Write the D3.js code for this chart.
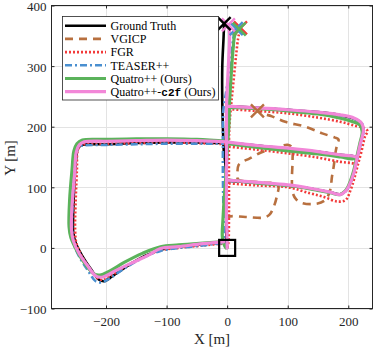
<!DOCTYPE html>
<html>
<head>
<meta charset="utf-8">
<script src="https://cdn.jsdelivr.net/npm/d3@7"></script>
<style>
  body { margin: 0; background: #fff; }
  svg { display: block; }
  .tick text { font-family: "Liberation Serif", serif; font-size: 13px; fill: #262626; }
</style>
</head>
<body>
<svg id="chart" width="374" height="350"></svg>
<script>
// ---- data (metres) ----
const xTicks = [-200, -100, 0, 100, 200];
const yTicks = [-100, 0, 100, 200, 300, 400];
const seriesNames = ['Ground Truth', 'VGICP', 'FGR', 'TEASER++', 'Quatro++ (Ours)', 'Quatro++-c2f (Ours)'];

// null = break between pieces of the same trajectory
const gtPath = [
  [-6, 9], [-30, 7], [-70, 3], [-105, -2], [-135, -13], [-165, -30], [-190, -47], [-203, -55], [-212, -52],
  [-225, -35], [-240, -12], [-250, 8], [-254, 25], [-254, 60], [-252, 110], [-249, 150], [-246, 165],
  [-238, 170], [-200, 171], [-150, 173], [-100, 174], [-50, 174], [-6, 173],
  null,
  [-1, 111], [50, 107], [100, 103], [137, 98], [170, 92], [187, 88.5], [196, 94], [201, 102], [209, 123],
  [215, 150], [220, 172], [224.5, 194], [222, 205], [210, 213], [187, 219], [150, 224], [100, 228], [50, 231], [-1, 234],
  null,
  [-1, 174], [50, 169], [100, 163.5], [150, 158.5], [187, 153.5], [205, 152], [213, 150],
  null,
  [0, 0], [-1, 8], [-1.5, 60], [-1.5, 110], [-3, 140], [-5.5, 160], [-7, 200], [-8, 240], [-8, 300], [-6, 345], [-5, 370]
];

const vgicpPath = [
  [0, 0], [0, 25], [1, 50], [30, 51], [60, 50], [70, 55], [77, 68], [82, 85], [84, 104], [60, 108], [30, 110],
  [18, 113], [17, 125], [19, 137], [27, 143], [36, 147], [55, 157], [80, 165], [100, 170], [107, 166],
  [108, 145], [107, 115], [108, 92], [114, 80], [124, 74], [148, 73], [162, 79], [170, 95], [173, 117],
  [176, 135], [179, 158], [182, 172], [184, 179], [178, 182], [157, 189], [129, 200], [96, 208], [74, 217],
  [58, 222], [50, 226]
];

const fgrPath = [
  [-8, 7], [-40, 4], [-80, 0], [-110, -4], [-140, -16], [-170, -32], [-195, -48], [-206, -53], [-214, -50],
  [-228, -33], [-242, -10], [-249, 8], [-251, 30], [-250, 80], [-248, 130], [-247, 160], [-243, 168],
  [-236, 171], [-200, 172], [-150, 173], [-100, 174], [-50, 173], [3, 171],
  null,
  [3, 106.5], [50, 103], [101, 100], [137, 90], [160, 84], [182, 76.5], [195.5, 79], [204, 96], [210, 115],
  [215, 134], [222, 160], [228, 185], [232, 192], [228, 197], [210, 202], [187, 208], [150, 215], [101, 222],
  [50, 226], [3, 229],
  null,
  [3, 167], [50, 162], [101, 156], [150, 149], [187, 142], [205, 140], [215, 138],
  null,
  [0, 0], [2, 8], [3, 50], [3, 110], [3, 175], [4, 205], [7, 240], [11, 280], [15, 320], [18, 345], [20, 355], [22, 363]
];

const teaserPath = [
  [-8, 8], [-40, 4], [-80, 0], [-110, -5], [-140, -17], [-170, -34], [-195, -51], [-207, -57], [-217, -55],
  [-230, -37], [-245, -13], [-253, 7], [-256, 30], [-255, 80], [-252, 130], [-250, 160], [-246, 167],
  [-238, 169], [-200, 170], [-150, 171], [-100, 172], [-50, 172], [-5, 172],
  null,
  [0, 111], [50, 107], [100, 103], [137, 98], [170, 91.5], [187, 88], [196, 94], [201, 102], [209, 124],
  [215.5, 151], [221, 174], [225.5, 195], [222, 206], [210, 213], [187, 218.5], [150, 223.5], [100, 228], [50, 231], [0, 233],
  null,
  [0, 174], [50, 168], [100, 163], [150, 157.5], [187, 152.5], [205, 151.5], [213, 151],
  null,
  [-3, 0], [-5, 10], [-6, 60], [-7, 120], [-7, 175], [-7, 200], [-6, 230], [-2, 255], [3, 290], [7, 320],
  [10, 345], [12, 355], [15, 362]
];

const quatroPath = [
  [-10, 10], [-40, 8], [-80, 5], [-110, 2], [-140, -9], [-170, -24], [-195, -39], [-210, -45], [-220, -43],
  [-235, -26], [-249, -3], [-258, 17], [-261, 35], [-260, 80], [-256, 130], [-253, 160], [-248, 172],
  [-239, 178], [-200, 179], [-150, 180], [-100, 180], [-50, 179], [1, 176],
  null,
  [2, 112], [50, 107], [100, 103], [137, 97.5], [170, 91], [186, 88], [195, 94], [200, 102], [208, 124],
  [214, 150], [219, 172], [223, 192], [219, 203], [205, 209], [187, 214], [150, 221], [100, 226], [50, 230], [3, 232],
  null,
  [1, 172], [50, 166], [100, 160], [150, 155], [187, 150], [207, 147], [213, 149],
  null,
  [-2, 0], [-6, 8], [-8, 20], [-7, 45], [-5, 80], [-2, 120], [1, 175], [3, 205], [4, 240], [7, 290],
  [10, 330], [13, 352], [20, 361]
];

const c2fPath = [
  [-6, 10], [-40, 7], [-80, 2], [-110, -1], [-130, -12], [-160, -26], [-185, -38], [-205, -48], [-216, -47],
  [-230, -30], [-245, -8], [-254, 12], [-257, 30], [-256, 70], [-252, 120], [-249, 158], [-244, 170],
  [-236, 175], [-200, 176], [-150, 177], [-100, 178], [-50, 177], [-1, 175],
  null,
  [-1, 112], [50, 108], [100, 104], [137, 98.5], [170, 92], [187, 88], [196, 94], [201, 102], [209, 123],
  [215, 150], [220, 172], [225, 194], [222, 206], [210, 214], [187, 219.5], [150, 224], [100, 228], [50, 231], [-1, 234],
  null,
  [-1, 175], [50, 169], [101, 164.5], [150, 159], [187, 153.5], [205, 152], [213, 150],
  null,
  [0, 0], [0, 8], [-1, 50], [-1, 110], [-1, 175], [-1, 235], [0, 260], [2, 300], [4, 340], [4, 355], [2, 368]
];

const startPoint = [0, 0];

// ---- styles ----
const styles = [
  { color: '#000000', width: 2.6, dash: null },
  { color: '#b8703f', width: 2.6, dash: '8,6' },
  { color: '#f23a3a', width: 2.6, dash: '2,2' },
  { color: '#4a8fd0', width: 2.6, dash: '7,3,2,3' },
  { color: '#5bb35b', width: 3.2, dash: null },
  { color: '#f287d8', width: 3.2, dash: null }
];
const paths = [gtPath, vgicpPath, fgrPath, teaserPath, quatroPath, c2fPath];

const svg = d3.select('#chart');
const x = d3.scaleLinear().domain([-290, 240]).range([51.5, 372.5]);
const y = d3.scaleLinear().domain([-100, 400]).range([308.5, 5.5]);
const [x0, x1] = x.range();
const [y0, y1] = y.range();

// grid
const grid = svg.append('g').attr('stroke', '#e3e3e3').attr('stroke-width', 1);
grid.selectAll('.gx').data(xTicks).join('line')
  .attr('x1', d => Math.round(x(d)) + 0.5).attr('x2', d => Math.round(x(d)) + 0.5)
  .attr('y1', y1).attr('y2', y0);
grid.selectAll('.gy').data(yTicks).join('line')
  .attr('y1', d => Math.round(y(d)) + 0.5).attr('y2', d => Math.round(y(d)) + 0.5)
  .attr('x1', x0).attr('x2', x1);

// trajectories
const plot = svg.append('g');
const line = d3.line().defined(d => d !== null).x(d => x(d[0])).y(d => y(d[1])).curve(d3.curveCatmullRom.alpha(0.5));
paths.forEach((p, i) => {
  plot.append('path')
    .attr('d', line(p))
    .attr('fill', 'none')
    .attr('stroke', styles[i].color)
    .attr('stroke-width', styles[i].width)
    .attr('stroke-linejoin', 'round')
    .attr('stroke-linecap', styles[i].dash ? 'butt' : 'round')
    .attr('stroke-dasharray', styles[i].dash);
});

// end markers (x) and start marker (square)
const drawOrder = [1, 2, 3, 4, 5, 0];
drawOrder.forEach(i => {
  const last = paths[i][paths[i].length - 1];
  const cx = x(last[0]), cy = y(last[1]), s = 6.5;
  plot.append('path')
    .attr('d', `M${cx - s},${cy - s}L${cx + s},${cy + s}M${cx - s},${cy + s}L${cx + s},${cy - s}`)
    .attr('stroke', styles[i].color)
    .attr('stroke-width', 2.4)
    .attr('fill', 'none');
});
plot.append('rect')
  .attr('x', x(startPoint[0]) - 8).attr('y', y(startPoint[1]) - 8)
  .attr('width', 16).attr('height', 16)
  .attr('fill', 'none').attr('stroke', '#000').attr('stroke-width', 2.2);

// axes
const axisColor = '#262626';
const gx = svg.append('g').attr('transform', `translate(0,${y0})`)
  .call(d3.axisBottom(x).tickValues(xTicks).tickSize(-3).tickPadding(8));
const gy = svg.append('g').attr('transform', `translate(${x0},0)`)
  .call(d3.axisLeft(y).tickValues(yTicks).tickSize(-3).tickPadding(5));
const gt = svg.append('g').attr('transform', `translate(0,${y1})`)
  .call(d3.axisTop(x).tickValues(xTicks).tickSize(-3).tickFormat(''));
const gr = svg.append('g').attr('transform', `translate(${x1},0)`)
  .call(d3.axisRight(y).tickValues(yTicks).tickSize(-3).tickFormat(''));
[gx, gy, gt, gr].forEach(g => {
  g.select('.domain').remove();
  g.selectAll('.tick line').attr('stroke', axisColor);
});
gy.selectAll('.tick text').attr('dy', '0.38em');
svg.append('rect')
  .attr('x', x0).attr('y', y1).attr('width', x1 - x0).attr('height', y0 - y1)
  .attr('fill', 'none').attr('stroke', axisColor).attr('stroke-width', 1);

// axis labels
svg.append('text')
  .attr('x', 212).attr('y', 344)
  .attr('text-anchor', 'middle')
  .attr('font-family', 'Liberation Serif, serif').attr('font-size', 15).attr('fill', axisColor)
  .text('X [m]');
svg.append('text')
  .attr('transform', 'translate(15,158) rotate(-90)')
  .attr('text-anchor', 'middle')
  .attr('font-family', 'Liberation Serif, serif').attr('font-size', 15).attr('fill', axisColor)
  .text('Y [m]');

// legend
const legend = svg.append('g');
legend.append('rect')
  .attr('x', 62.5).attr('y', 16.5).attr('width', 156).attr('height', 83.5)
  .attr('fill', '#fff').attr('stroke', '#262626').attr('stroke-width', 0.8);
seriesNames.forEach((name, i) => {
  const ly = 25.7 + i * 13.2;
  legend.append('line')
    .attr('x1', 65).attr('x2', 106).attr('y1', ly).attr('y2', ly)
    .attr('stroke', styles[i].color)
    .attr('stroke-width', styles[i].width)
    .attr('stroke-dasharray', styles[i].dash);
  const t = legend.append('text')
    .attr('x', 110.5).attr('y', ly).attr('dy', '0.35em')
    .attr('font-family', 'Liberation Serif, serif').attr('font-size', 12).attr('fill', '#000');
  const m = name.match(/^(.*)-c2f(.*)$/);
  if (m) {
    t.append('tspan').text(m[1] + '-');
    t.append('tspan').attr('font-family', 'Liberation Mono, monospace').attr('font-weight', 'bold').attr('font-size', 11).text('c2f');
    t.append('tspan').text(m[2]);
  } else {
    t.text(name);
  }
});
</script>
</body>
</html>
